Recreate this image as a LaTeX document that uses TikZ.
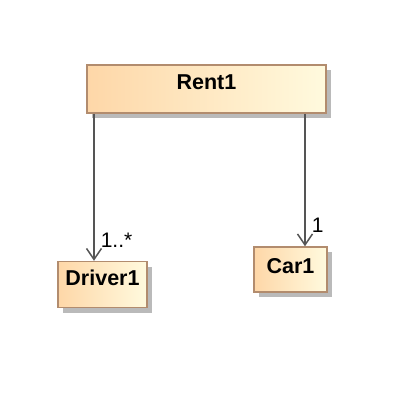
\documentclass[tikz,border=0pt]{standalone}
\usepackage{fontspec}
\setmainfont{Liberation Sans}
\usetikzlibrary{arrows.meta, positioning, shadows}
\definecolor{classLeft}{RGB}{254, 215, 168}
\definecolor{classRight}{RGB}{255, 250, 222}
\definecolor{classBorder}{RGB}{178, 140, 110}
\definecolor{lineGray}{RGB}{85, 85, 85}
\begin{document}
\begin{tikzpicture}[x=1pt, y=-1pt,
    classbox/.style={rectangle, draw=classBorder, line width=1.5pt,
        left color=classLeft, right color=classRight, inner xsep=0pt, inner ysep=0pt,
        font=\fontsize{21.5}{24}\selectfont\bfseries,
        drop shadow={shadow xshift=5pt, shadow yshift=-5pt, fill=black!27, opacity=1}},
    assoc/.style={-{Straight Barb[length=11pt, width=15pt]}, line width=1.5pt, draw=lineGray},
    mult/.style={font=\fontsize{21}{24}\selectfont, anchor=base west, inner sep=0pt}]
        \useasboundingbox (0,0) rectangle (418,416);

        % Classes
        \node[classbox, minimum width=239pt, text height=24pt, text depth=24pt]
            (rent) at (206.5,89) {Rent1};
        \node[classbox, minimum width=89pt, text height=24pt, text depth=22pt]
            (driver) at (102.5,284.5) {Driver1};
        \node[classbox, minimum width=73pt, text height=26pt, text depth=19pt]
            (car) at (290.5,269.5) {Car1};

        % Associations
        \coordinate (dx) at (94,0);
        \coordinate (cx) at (305,0);
        \draw[assoc] (rent.south -| dx) -- (driver.north -| dx)
            node[mult, at end, xshift=6pt, yshift=13pt] {1..*};
        \draw[assoc] (rent.south -| cx) -- (car.north -| cx)
            node[mult, at end, xshift=6pt, yshift=14pt] {1};
    \end{tikzpicture}
\end{document}
